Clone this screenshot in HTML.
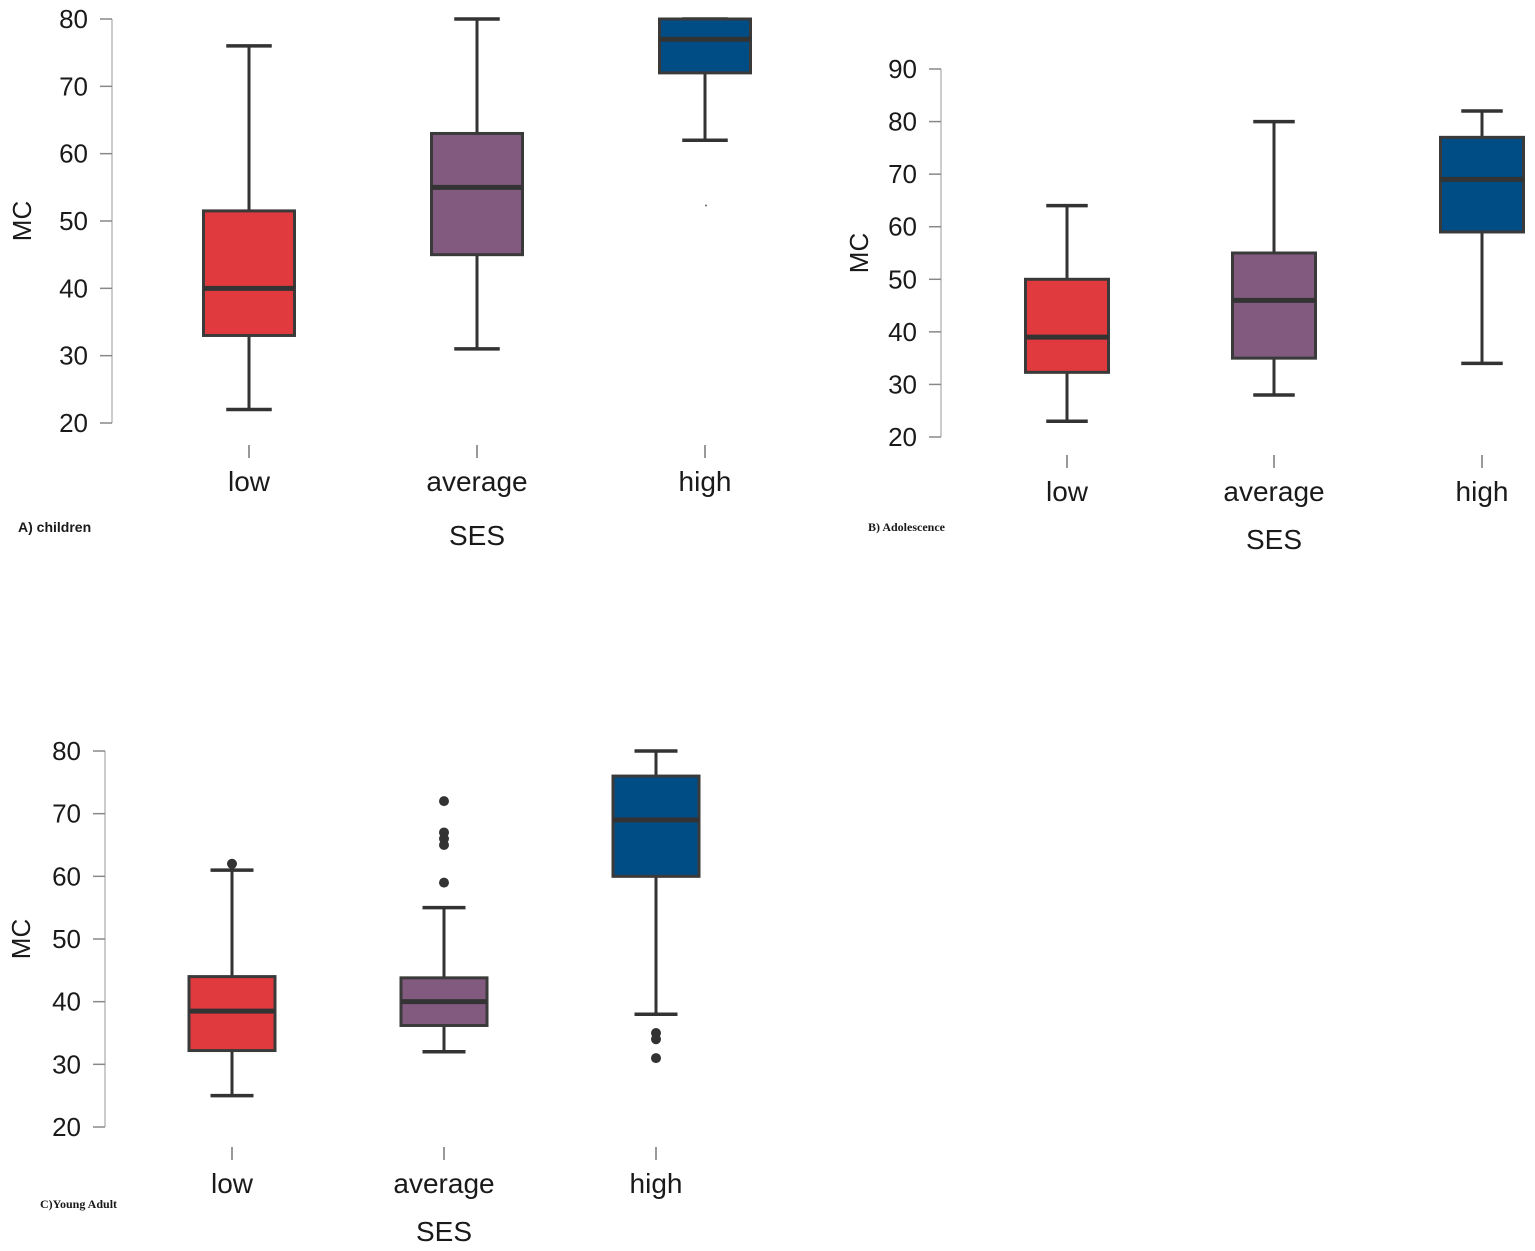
<!DOCTYPE html>
<html><head><meta charset="utf-8"><style>
html,body{margin:0;padding:0;background:#fff;}
svg{display:block;}
text{font-family:"Liberation Sans",sans-serif;fill:#1a1a1a;}
</style></head><body>
<svg id="chart" width="1535" height="1251" viewBox="0 0 1535 1251" xmlns="http://www.w3.org/2000/svg"></svg>
<script>
const categories = ["low","average","high"];
const colors = ["#e0393e","#835a7f","#004d86"];
// panel A: children  [whiskerLow, q1, median, q3, whiskerHigh]
const statsA = [[22,33,40,51.5,76],[31,45,55,63,80],[62,72,77,80,80]];
const outliersA = [[],[],[]];
// panel B: adolescence
const statsB = [[23,32.3,39,50,64],[28,35,46,55,80],[34,59,69,77,82]];
const outliersB = [[],[],[]];
// panel C: young adult
const statsC = [[25,32.2,38.5,44,61],[32,36.2,40,43.8,55],[38,60,69,76,80]];
const outliersC = [[62],[59,65,66,67,72],[35,34,31]];
const ticksA = [20,30,40,50,60,70,80];
const ticksB = [20,30,40,50,60,70,80,90];
const ticksC = [20,30,40,50,60,70,80];

const svg = document.getElementById('chart');
const NS = "http://www.w3.org/2000/svg";
function mk(tag, attrs, parent){
  const e = document.createElementNS(NS, tag);
  for (const k in attrs) e.setAttribute(k, attrs[k]);
  (parent||svg).appendChild(e);
  return e;
}

function panel(cfg){
  const g = mk('g', {});
  
  
  const y = v => cfg.yTop + (cfg.vMax - v) / (cfg.vMax - cfg.vMin) * (cfg.yBot - cfg.yTop);
  const ax = mk('line', {x1:cfg.axisX, x2:cfg.axisX, y1:y(cfg.vMax), y2:y(cfg.vMin), stroke:'#bbb', 'stroke-width':1.5}, g);
  
  
  cfg.ticks.forEach(t => {
    mk('line', {x1:cfg.axisX-12, x2:cfg.axisX, y1:y(t), y2:y(t), stroke:'#888', 'stroke-width':1.5}, g);
    const tl = mk('text', {x:cfg.axisX-24, y:y(t)+9, 'text-anchor':'end', 'font-size':26}, g);
    tl.textContent = t;
    
    
  });
  const yt = mk('text', {x:0, y:0, 'text-anchor':'middle', 'font-size':26, transform:`translate(${cfg.mcX},${cfg.mcY}) rotate(-90)`}, g);
  yt.textContent = 'MC';
  
  
  categories.forEach((c, i) => {
    const cx = cfg.xs[i];
    const s = cfg.stats[i];
    const hw = cfg.bw / 2;
    const cap = cfg.bw / 4;
    const bg = mk('g', {}, g);
    
    
    mk('line', {x1:cx, x2:cx, y1:y(s[0]), y2:y(s[1]), stroke:'#333', 'stroke-width':3}, bg);
    mk('line', {x1:cx, x2:cx, y1:y(s[3]), y2:y(s[4]), stroke:'#333', 'stroke-width':3}, bg);
    mk('line', {x1:cx-cap, x2:cx+cap, y1:y(s[0]), y2:y(s[0]), stroke:'#333', 'stroke-width':3.5}, bg);
    mk('line', {x1:cx-cap, x2:cx+cap, y1:y(s[4]), y2:y(s[4]), stroke:'#333', 'stroke-width':3.5}, bg);
    mk('rect', {x:cx-hw, y:y(s[3]), width:cfg.bw, height:y(s[1])-y(s[3]), fill:colors[i], stroke:'#3a3a3a', 'stroke-width':3}, bg);
    mk('line', {x1:cx-hw, x2:cx+hw, y1:y(s[2]), y2:y(s[2]), stroke:'#333', 'stroke-width':5}, bg);
    cfg.outliers[i].forEach(o => {
      const d = mk('circle', {cx:cx, cy:y(o), r:5, fill:'#333'}, bg);
      
      
    });
    mk('line', {x1:cx, x2:cx, y1:cfg.tickY, y2:cfg.tickY+13, stroke:'#777', 'stroke-width':1.5}, g);
    const xl = mk('text', {x:cx, y:cfg.tickY+46, 'text-anchor':'middle', 'font-size':28}, g);
    xl.textContent = c;
    
    
  });
  const xt = mk('text', {x:cfg.xs[1], y:cfg.sesY, 'text-anchor':'middle', 'font-size':28}, g);
  xt.textContent = 'SES';
  
  
  const pt = mk('text', {x:cfg.capX, y:cfg.capY, 'font-size':cfg.capSize, 'font-weight':'bold', style:'font-family:' + cfg.capFont}, g);
  pt.textContent = cfg.caption;
  
  
  return y;
}

const yA = panel({name:'panel-a-children', stats:statsA, outliers:outliersA, ticks:ticksA, vMin:20, vMax:80, yTop:19, yBot:423, axisX:112, xs:[249,477,705], bw:91, mcX:31, mcY:221, tickY:445, sesY:545, caption:'A) children', capX:18, capY:532, capSize:14, capFont:'"Liberation Sans",sans-serif'});
// tiny stray dot in panel A high
const sd = mk('circle', {cx:706, cy:yA(52.3), r:1, fill:'#666'});



panel({name:'panel-b-adolescence', stats:statsB, outliers:outliersB, ticks:ticksB, vMin:20, vMax:90, yTop:69, yBot:437, axisX:941, xs:[1067,1274,1482], bw:83, mcX:868, mcY:253, tickY:455, sesY:549, caption:'B) Adolescence', capX:868, capY:531, capSize:12, capFont:'"Liberation Serif",serif'});

panel({name:'panel-c-young-adult', stats:statsC, outliers:outliersC, ticks:ticksC, vMin:20, vMax:80, yTop:751, yBot:1127, axisX:105, xs:[232,444,656], bw:86, mcX:30, mcY:939, tickY:1147, sesY:1241, caption:'C)Young Adult', capX:40, capY:1208, capSize:12, capFont:'"Liberation Serif",serif'});
</script>
</body></html>
